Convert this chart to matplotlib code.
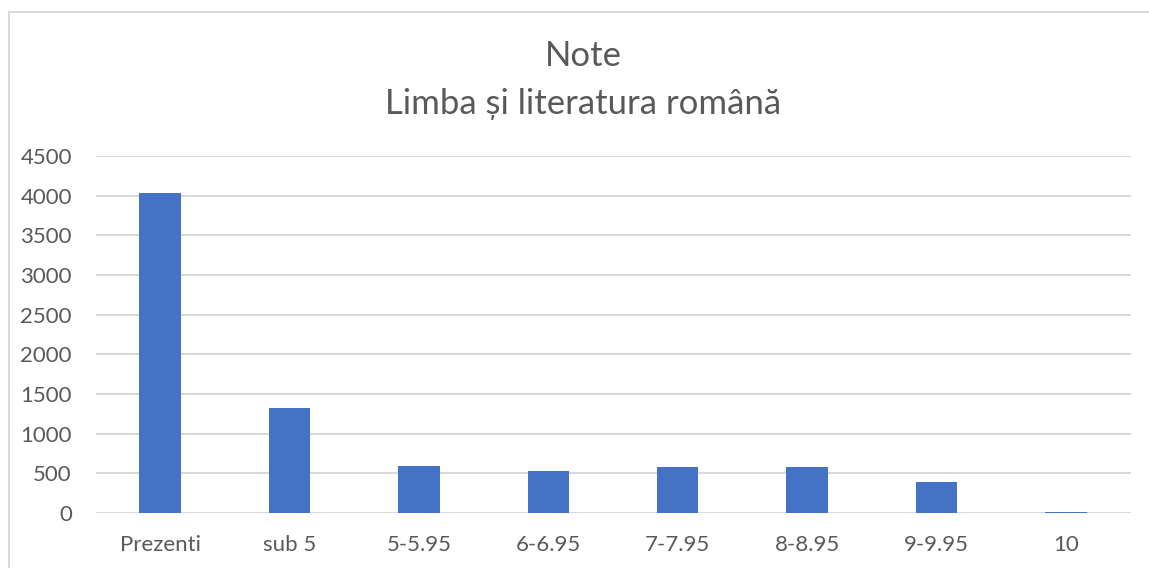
import matplotlib.pyplot as plt
import numpy as np

categories = ['Prezenti', 'sub 5', '5-5.95', '6-6.95', '7-7.95', '8-8.95', '9-9.95', '10']
values = [4037, 1324, 595, 535, 586, 577, 390, 10]
yticks = [0, 500, 1000, 1500, 2000, 2500, 3000, 3500, 4000, 4500]

plt.rcParams['font.family'] = ['Lato', 'DejaVu Sans']

fig = plt.figure(figsize=(11.49, 5.68), dpi=100)
W, H = 1149, 568
ax = fig.add_axes([95.5 / W, 1 - 513 / H, (1130.5 - 95.5) / W, (513 - 156) / H])

x = np.arange(len(categories))
ax.bar(x, values, width=0.32, color='#4472C4', zorder=3)

ax.set_xlim(-0.5, len(categories) - 0.5)
ax.set_ylim(0, 4500)
ax.set_yticks(yticks)
ax.set_yticklabels([str(t) for t in yticks])
ax.set_xticks(x)
ax.set_xticklabels(categories)
ax.tick_params(axis='both', length=0, labelsize=16, colors='#595959')
ax.tick_params(axis='y', pad=17)
ax.tick_params(axis='x', pad=16)
ax.grid(axis='y', color='#d9d9d9', linewidth=1.5, zorder=0)
for s in ax.spines.values():
    s.set_visible(False)

fig.text(583 / W, 1 - 56 / H, 'Note', ha='center', va='center', fontsize=25, color='#595959')
fig.text(583 / W, 1 - 104 / H, 'Limba și literatura română', ha='center', va='center',
         fontsize=25, color='#595959')

# chart frame (left and top edges)
fig.add_artist(plt.Line2D([8.5 / W, 8.5 / W], [0, 1 - 12 / H], color='#d9d9d9', lw=1.5,
                          transform=fig.transFigure))
fig.add_artist(plt.Line2D([8.5 / W, 1], [1 - 12 / H, 1 - 12 / H], color='#d9d9d9', lw=1.5,
                          transform=fig.transFigure))

fig.savefig('out.png', dpi=100)
